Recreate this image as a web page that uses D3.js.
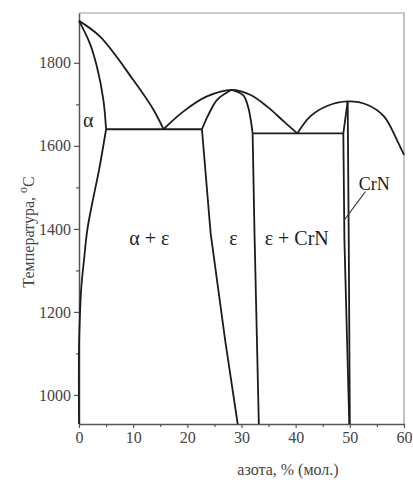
<!DOCTYPE html>
<html>
<head>
<meta charset="utf-8">
<script src="https://cdn.jsdelivr.net/npm/d3@7"></script>
<style>
  body { margin: 0; background: #fff; }
  text { font-family: "Liberation Serif", "DejaVu Serif", serif; }
</style>
</head>
<body>
<div id="chart"></div>
<script>
// phase boundaries, [N mol %, T °C]
var alphaLiquidus = [[0, 1901], [3.9, 1863], [10, 1759], [13.75, 1687], [15.6, 1640]];
var alphaSolidus = [[0, 1901], [2.0, 1847], [3.3, 1791], [4.5, 1711], [5.0, 1640]];
var alphaSolvus = [[5.0, 1640], [3.7, 1542], [2.46, 1463], [1.54, 1398], [0.92, 1325], [0.43, 1260], [0.19, 1198], [0, 1115], [0, 930]];
var epsLiquidus = [[15.6, 1640], [19.3, 1683], [23.6, 1719], [28.2, 1735], [31.6, 1723], [34.7, 1695], [37.8, 1659], [40.3, 1630]];
var epsSolidusLeft = [[22.7, 1640], [23.9, 1675], [25.5, 1711], [28.2, 1735]];
var epsSolidusRight = [[28.2, 1735], [30.3, 1722], [31.2, 1695], [31.8, 1655], [32.05, 1630]];
var epsSolvusLeft = [[22.7, 1640], [24.3, 1390], [27.0, 1130], [29.3, 930]];
var epsSolvusRight = [[32.05, 1630], [32.4, 1390], [33.2, 930]];
var crnLiquidus = [[40.3, 1630], [42.7, 1671], [45.8, 1696], [49.6, 1707], [53.2, 1699], [56.3, 1671], [58.7, 1614], [60, 1578]];
var crnLeft = [[49.6, 1707], [48.8, 1630], [49.0, 1373], [49.9, 930]];
var crnRight = [[49.6, 1707], [49.8, 1373], [50.0, 930]];
var eutectics = [[5.0, 22.7, 1640], [32.05, 48.8, 1630]];

var xTicks = [0, 10, 20, 30, 40, 50, 60];
var yTicks = [1000, 1200, 1400, 1600, 1800];

var W = 413, H = 483;
var margin = { top: 13, right: 9, bottom: 59, left: 79 };

var svg = d3.select("#chart").append("svg")
    .attr("width", W)
    .attr("height", H);

var x = d3.scaleLinear().domain([0, 60]).range([margin.left, W - margin.right]);
var y = d3.scaleLinear().domain([930, 1920]).range([H - margin.bottom, margin.top]);

// light frame on top and right
svg.append("path")
    .attr("d", "M" + x(0) + "," + y(1920) + "H" + x(60) + "V" + y(930))
    .attr("fill", "none")
    .attr("stroke", "#999")
    .attr("stroke-width", 1.2);

// axes
var xAxis = svg.append("g")
    .attr("transform", "translate(0," + y(930) + ")")
    .call(d3.axisBottom(x).tickValues(xTicks).tickSize(4).tickSizeOuter(0).tickPadding(4));
svg.append("g")
    .attr("transform", "translate(0," + y(930) + ")")
    .call(d3.axisBottom(x).tickValues([5, 15, 25, 35, 45, 55]).tickSize(3).tickFormat(""))
    .select(".domain").remove();

var yAxis = svg.append("g")
    .attr("transform", "translate(" + x(0) + ",0)")
    .call(d3.axisLeft(y).tickValues(yTicks).tickSize(5).tickSizeOuter(0).tickPadding(3)
        .tickFormat(d3.format("d")));
svg.append("g")
    .attr("transform", "translate(" + x(0) + ",0)")
    .call(d3.axisLeft(y).tickValues([1100, 1300, 1500, 1700]).tickSize(3).tickFormat(""))
    .select(".domain").remove();

svg.selectAll("g").attr("font-family", "Liberation Serif, serif");
svg.selectAll(".domain").attr("stroke", "#555").attr("stroke-width", 1.5);
svg.selectAll(".tick line").attr("stroke", "#555").attr("stroke-width", 1.2);
svg.selectAll(".tick text")
    .attr("fill", "#444")
    .style("font-size", "16px");

// axis titles
svg.append("text")
    .attr("x", 288)
    .attr("y", 475)
    .attr("text-anchor", "middle")
    .attr("fill", "#444")
    .style("font-size", "16px")
    .text("азота, % (мол.)");

var yt = svg.append("text")
    .attr("transform", "translate(34,232) rotate(-90)")
    .attr("text-anchor", "middle")
    .attr("fill", "#444")
    .style("font-size", "16px");
yt.append("tspan").text("Температура, ");
yt.append("tspan").attr("dy", -7).style("font-size", "12px").text("o");
yt.append("tspan").attr("dy", 7).text("C");

// phase lines
var curve = d3.line()
    .x(function (d) { return x(d[0]); })
    .y(function (d) { return y(d[1]); })
    .curve(d3.curveCatmullRom.alpha(0.5));
var straight = d3.line()
    .x(function (d) { return x(d[0]); })
    .y(function (d) { return y(d[1]); });

var curved = [alphaLiquidus, alphaSolidus, alphaSolvus, epsLiquidus, epsSolidusLeft,
    epsSolidusRight, crnLiquidus];
var lines = [epsSolvusLeft, epsSolvusRight, crnLeft, crnRight];

svg.selectAll(".curved")
    .data(curved)
    .enter().append("path")
    .attr("class", "curved")
    .attr("d", curve)
    .attr("fill", "none")
    .attr("stroke", "#1c1c1c")
    .attr("stroke-width", 1.8);

svg.selectAll(".straight")
    .data(lines)
    .enter().append("path")
    .attr("class", "straight")
    .attr("d", straight)
    .attr("fill", "none")
    .attr("stroke", "#1c1c1c")
    .attr("stroke-width", 1.8);

svg.selectAll(".eut")
    .data(eutectics)
    .enter().append("line")
    .attr("class", "eut")
    .attr("x1", function (d) { return x(d[0]); })
    .attr("x2", function (d) { return x(d[1]); })
    .attr("y1", function (d) { return y(d[2]); })
    .attr("y2", function (d) { return y(d[2]); })
    .attr("stroke", "#1c1c1c")
    .attr("stroke-width", 1.8);

// phase labels
var labels = [
    { t: "α", x: 1.7, T: 1645 },
    { t: "α + ε", x: 13.0, T: 1360 },
    { t: "ε", x: 28.5, T: 1360 },
    { t: "ε + CrN", x: 40.2, T: 1360 },
    { t: "CrN", x: 54.5, T: 1493 }
];
svg.selectAll(".lbl")
    .data(labels)
    .enter().append("text")
    .attr("class", "lbl")
    .attr("x", function (d) { return x(d.x); })
    .attr("y", function (d) { return y(d.T); })
    .attr("text-anchor", "middle")
    .attr("fill", "#222")
    .style("font-size", function (d) { return d.t === "CrN" ? "18px" : "20px"; })
    .text(function (d) { return d.t; });

// pointer to CrN
svg.append("line")
    .attr("x1", x(52.9)).attr("y1", y(1490))
    .attr("x2", x(49.0)).attr("y2", y(1422))
    .attr("stroke", "#333")
    .attr("stroke-width", 1.2);
</script>
</body>
</html>
